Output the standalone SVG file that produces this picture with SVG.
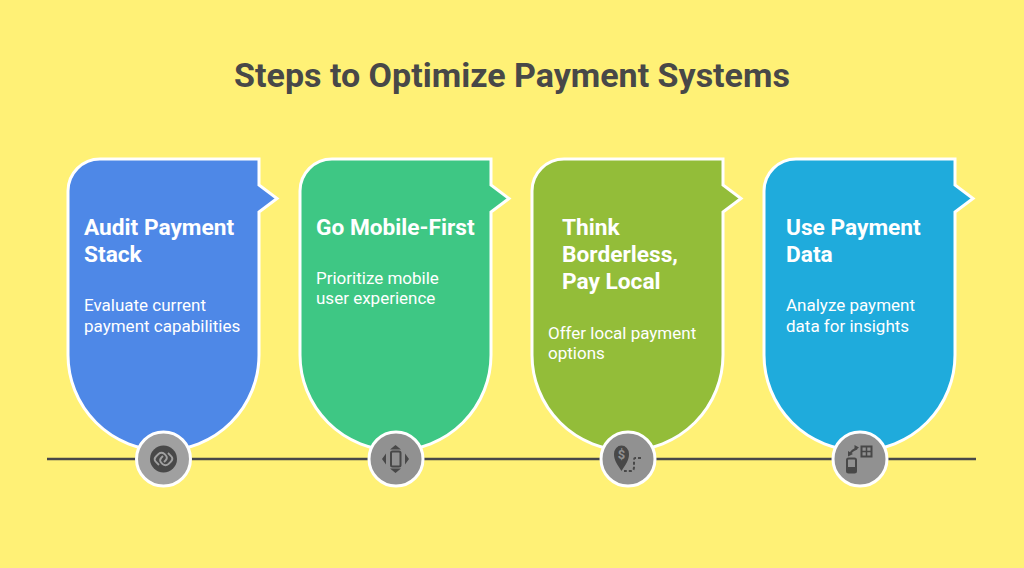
<svg xmlns="http://www.w3.org/2000/svg" width="1024" height="568" viewBox="0 0 1024 568">
<style>
text{font-family:Roboto,"Liberation Sans",sans-serif}
.t{font-size:34px;font-weight:700;fill:#484848}
.h{font-size:22.700px;font-weight:700;fill:#fff}
.d{font-size:17px;fill:#fff}
.card{stroke:#fff;stroke-width:3}
.c{fill:#919191;stroke:#fff;stroke-width:3}
.i{fill:#484848}
</style>
<defs>
<path id="card" d="M32,0H191V26L209,39.500L191,53V196A95.500,95.500 0 0 1 0,196V32A32,32 0 0 1 32,0Z"/>
</defs>
<rect width="1024" height="568" fill="#fff176"/>
<text class="t" x="512" y="87" text-anchor="middle">Steps to Optimize Payment Systems</text>
<g id="connectors"><path d="M47,459H976" stroke="#484848" stroke-width="2.500" fill="none"/></g>
<g id="node-1">
<use href="#card" x="68" y="159" class="card" fill="#4e88e7"/>
<text class="h" x="84" y="235">Audit Payment</text><text class="h" x="84" y="262">Stack</text>
<text class="d" x="84" y="311">Evaluate current</text><text class="d" x="84" y="332">payment capabilities</text>
<circle class="c" cx="163.500" cy="459" r="27" style="fill:#a0a0a0"/>
<circle class="i" cx="163.500" cy="459" r="13.500"/>
<path d="M159,465L155.500,461.500Q153.500,459 156,456.500L158.500,454Q161.500,451.500 164.500,454L166,455.500Q168,458 165.500,460.500L164,462M168,453L171.500,456.500Q173.500,459 171,461.500L168.500,464Q165.500,466.500 162.500,464L161,462.500Q159,460 161.500,457.500L163,456" fill="none" stroke="#a0a0a0" stroke-width="1.800"/>
</g>
<g id="node-2">
<use href="#card" x="300" y="159" class="card" fill="#3ec784"/>
<text class="h" x="316" y="235">Go Mobile-First</text>
<text class="d" x="316" y="284">Prioritize mobile</text><text class="d" x="316" y="304">user experience</text>
<circle class="c" cx="396" cy="459" r="27"/>
<rect x="391" y="451.500" width="9.500" height="15" rx="1.500" fill="none" stroke="#484848" stroke-width="2"/>
<path class="i" d="M395.500,445L401,449.500H390ZM395.500,473L390,468.500H401ZM382,459L386,453.500V464.500ZM409,459L405,453.500V464.500Z"/>
</g>
<g id="node-3">
<use href="#card" x="532" y="159" class="card" fill="#93bd39"/>
<text class="h" x="562" y="235">Think</text><text class="h" x="562" y="262">Borderless,</text><text class="h" x="562" y="289">Pay Local</text>
<text class="d" x="548" y="338.500">Offer local payment</text><text class="d" x="548" y="359">options</text>
<circle class="c" cx="628" cy="459" r="27"/>
<path class="i" d="M621.500,471C617,464 614,460 614,454A7.500,8.500 0 0 1 629,454C629,460 626,464 621.500,471Z"/>
<text x="621.500" y="458.500" font-size="13" font-weight="700" fill="#919191" text-anchor="middle">$</text>
<path d="M641,458H635Q634,458 634,460V467Q634,471 631,471H624" fill="none" stroke="#484848" stroke-width="2" stroke-dasharray="3 2"/>
</g>
<g id="node-4">
<use href="#card" x="764" y="159" class="card" fill="#1fabdc"/>
<text class="h" x="786" y="235">Use Payment</text><text class="h" x="786" y="262">Data</text>
<text class="d" x="786" y="311">Analyze payment</text><text class="d" x="786" y="332">data for insights</text>
<circle class="c" cx="860" cy="459" r="27"/>
<rect x="847" y="458.500" width="9" height="14" rx="1.500" fill="none" stroke="#484848" stroke-width="2"/>
<rect x="847" y="467" width="9" height="5.500" fill="#484848"/>
<rect x="861.500" y="446.500" width="10" height="10" fill="none" stroke="#484848" stroke-width="2"/>
<path d="M861.500,451.500H871.500M866.500,446.500V456.500" stroke="#484848" stroke-width="1.500"/>
<path d="M850,454Q852,450 857,448.500" fill="none" stroke="#484848" stroke-width="2"/>
<path class="i" d="M848,456.500L848,451L853,454ZM859,447.500L854.500,445V451Z"/>
</g>
</svg>
